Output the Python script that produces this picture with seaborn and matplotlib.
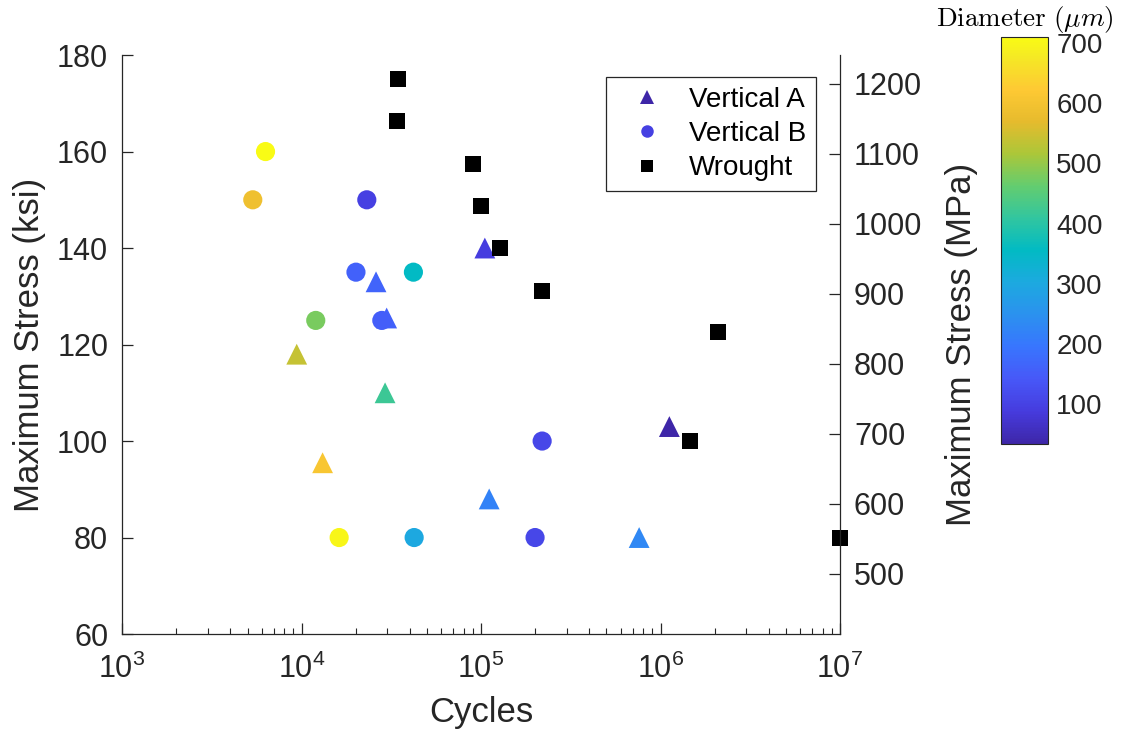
import numpy as np
import pandas as pd
import matplotlib
matplotlib.use("Agg")
import matplotlib.pyplot as plt
import seaborn as sns
from matplotlib.colors import LinearSegmentedColormap, Normalize
from matplotlib.lines import Line2D
from matplotlib.ticker import LogLocator, FuncFormatter, NullFormatter, FixedLocator
import matplotlib.cm as cm

KSI_TO_MPA = 6.894757

# ---- data -------------------------------------------------------------
series_names = ["Vertical A", "Vertical B", "Wrought"]

cycles_a = [1.05e5, 2.6e4, 2.98e4, 9.4e3, 2.92e4, 1.31e4, 1.11e5, 7.6e5, 1.12e6]
ksi_a = [140, 133, 125.5, 118, 110, 95.5, 88, 80, 103]
diam_a = [90, 165, 160, 540, 420, 610, 220, 230, 34]

cycles_b = [6.3e3, 5.35e3, 2.31e4, 2.01e4, 4.2e4, 1.2e4, 2.8e4, 1.62e4, 4.24e4, 2.0e5, 2.19e5]
ksi_b = [160, 150, 150, 135, 135, 125, 125, 80, 80, 80, 100]
diam_b = [710, 590, 95, 160, 355, 480, 155, 700, 300, 110, 110]

cycles_w = [3.46e4, 3.39e4, 9.06e4, 1.0e5, 1.28e5, 2.18e5, 2.09e6, 1.46e6, 1.0e7]
ksi_w = [175, 166.3, 157.5, 148.8, 140, 131.2, 122.6, 100, 80]

ksi_ticks = [60, 80, 100, 120, 140, 160, 180]
mpa_ticks = [500, 600, 700, 800, 900, 1000, 1100, 1200]
diam_ticks = [100, 200, 300, 400, 500, 600, 700]

# ---- parula-like colormap ----------------------------------------------
parula_nodes = [
    (0 / 63, (0.2422, 0.1504, 0.6603)),
    (5 / 63, (0.2751, 0.2342, 0.8710)),
    (10 / 63, (0.2795, 0.3447, 0.9717)),
    (15 / 63, (0.2206, 0.4603, 0.9973)),
    (20 / 63, (0.1687, 0.5703, 0.9359)),
    (25 / 63, (0.1113, 0.6635, 0.8763)),
    (30 / 63, (0.0067, 0.7312, 0.7660)),
    (35 / 63, (0.1938, 0.7758, 0.6251)),
    (40 / 63, (0.3909, 0.8029, 0.4354)),
    (45 / 63, (0.6720, 0.7793, 0.2227)),
    (50 / 63, (0.9035, 0.7330, 0.1774)),
    (55 / 63, (0.9952, 0.7893, 0.2028)),
    (60 / 63, (0.9597, 0.9135, 0.1423)),
    (63 / 63, (0.9769, 0.9839, 0.0805)),
]
parula = LinearSegmentedColormap.from_list("parula", parula_nodes, N=256)

df_a = pd.DataFrame({"cycles": cycles_a, "ksi": ksi_a, "diameter": diam_a})
df_b = pd.DataFrame({"cycles": cycles_b, "ksi": ksi_b, "diameter": diam_b})
df_w = pd.DataFrame({"cycles": cycles_w, "ksi": ksi_w})

all_d = diam_a + diam_b
norm = Normalize(vmin=min(all_d), vmax=max(all_d))

# ---- style --------------------------------------------------------------
sns.set_theme(style="white")
plt.rcParams["font.family"] = ["Liberation Sans", "DejaVu Sans"]
plt.rcParams["mathtext.fontset"] = "cm"
text_col = "#262626"

fig = plt.figure(figsize=(11.28, 7.44), dpi=100)
ax = fig.add_axes([0.1082, 0.1478, 0.6365, 0.7782])

sns.scatterplot(data=df_a, x="cycles", y="ksi", hue="diameter", palette=parula,
                hue_norm=norm, marker="^", s=225, linewidth=0, legend=False,
                ax=ax, zorder=3)
sns.scatterplot(data=df_b, x="cycles", y="ksi", hue="diameter", palette=parula,
                hue_norm=norm, marker="o", s=190, linewidth=0, legend=False,
                ax=ax, zorder=4)
sns.scatterplot(data=df_w, x="cycles", y="ksi", color="black", marker="s",
                s=125, linewidth=0, legend=False, ax=ax, zorder=5)
for coll in ax.collections:
    coll.set_clip_on(False)

ax.set_xscale("log")
ax.set_xlim(1e3, 1e7)
ax.set_ylim(60, 180)
ax.set_yticks(ksi_ticks)
ax.xaxis.set_major_locator(FixedLocator([1e3, 1e4, 1e5, 1e6, 1e7]))
ax.xaxis.set_minor_locator(LogLocator(base=10, subs=np.arange(2, 10), numticks=20))
ax.xaxis.set_minor_formatter(NullFormatter())
ax.xaxis.set_major_formatter(
    FuncFormatter(lambda v, p: r"$\mathregular{10^{%d}}$" % round(np.log10(v))))

ax.set_xlabel("Cycles", fontsize=25, color=text_col, labelpad=8)
ax.set_ylabel("Maximum Stress (ksi)", fontsize=25, color=text_col, labelpad=8)
ax.tick_params(axis="both", which="major", direction="in", length=8, width=0.9,
               colors=text_col, labelsize=22, bottom=True, left=True,
               top=False, right=False)
ax.tick_params(axis="x", which="major", pad=14)
ax.tick_params(axis="y", which="major", pad=10)
ax.tick_params(axis="x", which="minor", direction="in", length=4, width=0.8,
               colors=text_col, bottom=True, top=False)
for side in ["top", "right"]:
    ax.spines[side].set_visible(False)
for side in ["left", "bottom"]:
    ax.spines[side].set_color(text_col)
    ax.spines[side].set_linewidth(0.9)

# ---- right-hand MPa axis -------------------------------------------------
ax2 = ax.twinx()
ax2.set_ylim(60 * KSI_TO_MPA, 180 * KSI_TO_MPA)
ax2.set_yticks(mpa_ticks)
ax2.set_ylabel("Maximum Stress (MPa)", fontsize=25, color=text_col, labelpad=16)
ax2.tick_params(axis="y", direction="in", length=8, width=0.9, colors=text_col,
                labelsize=22, pad=10, right=True, left=False)
for side in ["top", "left", "bottom"]:
    ax2.spines[side].set_visible(False)
ax2.spines["right"].set_color(text_col)
ax2.spines["right"].set_linewidth(0.9)

# ---- legend ----------------------------------------------------------------
handles = [
    Line2D([], [], marker="^", linestyle="none", markersize=10,
           markerfacecolor=parula(norm(min(diam_a))), markeredgewidth=0),
    Line2D([], [], marker="o", linestyle="none", markersize=9,
           markerfacecolor=parula(norm(min(diam_b))), markeredgewidth=0),
    Line2D([], [], marker="s", linestyle="none", markersize=8,
           markerfacecolor="black", markeredgewidth=0),
]
leg = ax.legend(handles, series_names, loc="upper right",
                bbox_to_anchor=(0.9666, 0.962), borderaxespad=0, fontsize=20,
                frameon=True, fancybox=False, framealpha=1, edgecolor=text_col,
                borderpad=0.35, handlelength=2.3, handletextpad=0.35,
                labelspacing=0.3)
leg.get_frame().set_linewidth(0.9)
for t in leg.get_texts():
    t.set_color("black")

# ---- colorbar ------------------------------------------------------------
cax = fig.add_axes([0.8874, 0.4032, 0.0417, 0.5470])
sm = cm.ScalarMappable(norm=norm, cmap=parula)
cb = fig.colorbar(sm, cax=cax)
cb.set_ticks(diam_ticks)
cb.outline.set_linewidth(0.8)
cb.outline.set_edgecolor(text_col)
cax.tick_params(direction="in", length=4, width=0.8, colors=text_col,
                labelsize=20, pad=6, right=True, left=False)
cax.set_title(r"$\mathrm{Diameter}\ (\mu m)$", fontsize=19.5, color="black", pad=8)

fig.savefig("out.png", dpi=100)
